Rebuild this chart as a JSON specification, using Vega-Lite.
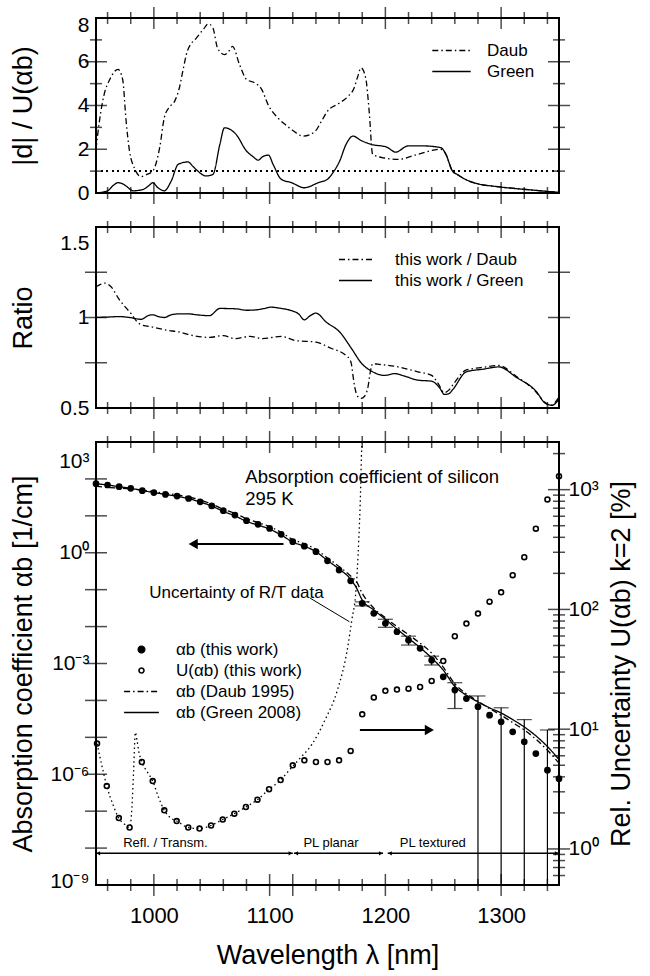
{
"$schema": "https://vega.github.io/schema/vega-lite/v6.json",
"background": "white",
"padding": {"left": 8, "top": 6, "right": 6, "bottom": 2},
"spacing": 34,
"bounds": "flush",
"resolve": {"scale": {"strokeDash": "independent", "shape": "independent"}, "legend": {"strokeDash": "independent", "shape": "independent"}},
"config": {
  "font": "Liberation Sans",
  "view": {"stroke": "black", "strokeWidth": 2},
  "axis": {"domain": false, "grid": false, "ticks": false, "labelFont": "Liberation Sans", "labelFontSize": 21, "labelColor": "black", "titleFont": "Liberation Sans", "titleFontSize": 27, "titleFontWeight": "normal", "titleColor": "black"},
  "legend": {"labelFont": "Liberation Sans", "labelFontSize": 17, "labelColor": "black", "padding": 0},
  "tick": {"color": "black", "thickness": 1.5, "clip": true}
},
"datasets": {
  "xt": [{"v":960,"k":"minor"},{"v":980,"k":"minor"},{"v":1000,"k":"major"},{"v":1020,"k":"minor"},{"v":1040,"k":"minor"},{"v":1060,"k":"minor"},{"v":1080,"k":"minor"},{"v":1100,"k":"major"},{"v":1120,"k":"minor"},{"v":1140,"k":"minor"},{"v":1160,"k":"minor"},{"v":1180,"k":"minor"},{"v":1200,"k":"major"},{"v":1220,"k":"minor"},{"v":1240,"k":"minor"},{"v":1260,"k":"minor"},{"v":1280,"k":"minor"},{"v":1300,"k":"major"},{"v":1320,"k":"minor"},{"v":1340,"k":"minor"}],
  "xt3": [{"v":960,"k":"minor"},{"v":980,"k":"minor"},{"v":1000,"k":"major"},{"v":1020,"k":"minor"},{"v":1040,"k":"minor"},{"v":1060,"k":"minor"},{"v":1080,"k":"minor"},{"v":1100,"k":"major"},{"v":1120,"k":"major"},{"v":1140,"k":"minor"},{"v":1160,"k":"minor"},{"v":1180,"k":"minor"},{"v":1200,"k":"major"},{"v":1220,"k":"minor"},{"v":1240,"k":"minor"},{"v":1260,"k":"minor"},{"v":1280,"k":"minor"},{"v":1300,"k":"major"},{"v":1320,"k":"minor"},{"v":1340,"k":"minor"}],
  "y1t": [{"v":1,"k":"minor"},{"v":2,"k":"major"},{"v":3,"k":"minor"},{"v":4,"k":"major"},{"v":5,"k":"minor"},{"v":6,"k":"major"},{"v":7,"k":"minor"}],
  "y2t": [{"v":0.75,"k":"major"},{"v":1,"k":"major"},{"v":1.25,"k":"major"}],
  "y3t": [{"v":1e-8,"k":"major"},{"v":1e-7,"k":"major"},{"v":1e-6,"k":"major"},{"v":1e-5,"k":"major"},{"v":1e-4,"k":"major"},{"v":0.001,"k":"major"},{"v":0.01,"k":"major"},{"v":0.1,"k":"major"},{"v":1,"k":"major"},{"v":10,"k":"major"},{"v":100,"k":"major"}],
  "y4t": [{"v":0.6,"k":"minor"},{"v":0.7,"k":"minor"},{"v":0.8,"k":"minor"},{"v":0.9,"k":"minor"},{"v":1,"k":"major"},{"v":2,"k":"minor"},{"v":3,"k":"minor"},{"v":4,"k":"minor"},{"v":5,"k":"minor"},{"v":6,"k":"minor"},{"v":7,"k":"minor"},{"v":8,"k":"minor"},{"v":9,"k":"minor"},{"v":10,"k":"major"},{"v":20,"k":"minor"},{"v":30,"k":"minor"},{"v":40,"k":"minor"},{"v":50,"k":"minor"},{"v":60,"k":"minor"},{"v":70,"k":"minor"},{"v":80,"k":"minor"},{"v":90,"k":"minor"},{"v":100,"k":"major"},{"v":200,"k":"minor"},{"v":300,"k":"minor"},{"v":400,"k":"minor"},{"v":500,"k":"minor"},{"v":600,"k":"minor"},{"v":700,"k":"minor"},{"v":800,"k":"minor"},{"v":900,"k":"minor"},{"v":1000,"k":"major"},{"v":2000,"k":"minor"}],
  "d1": [
    {"nm":950,"v":2.0,"s":"Daub"},{"nm":953,"v":3.3,"s":"Daub"},{"nm":957,"v":4.5,"s":"Daub"},{"nm":962,"v":5.2,"s":"Daub"},{"nm":969,"v":5.65,"s":"Daub"},{"nm":973,"v":5.2,"s":"Daub"},{"nm":976,"v":3.3,"s":"Daub"},{"nm":979,"v":1.9,"s":"Daub"},{"nm":983,"v":1.16,"s":"Daub"},{"nm":989,"v":0.75,"s":"Daub"},{"nm":994,"v":0.85,"s":"Daub"},{"nm":999,"v":1.0,"s":"Daub"},{"nm":1005,"v":2.07,"s":"Daub"},{"nm":1009,"v":3.44,"s":"Daub"},{"nm":1013,"v":3.9,"s":"Daub"},{"nm":1018,"v":4.2,"s":"Daub"},{"nm":1022,"v":4.8,"s":"Daub"},{"nm":1025,"v":5.57,"s":"Daub"},{"nm":1029,"v":6.5,"s":"Daub"},{"nm":1037,"v":7.1,"s":"Daub"},{"nm":1043,"v":7.5,"s":"Daub"},{"nm":1047,"v":7.73,"s":"Daub"},{"nm":1051,"v":7.55,"s":"Daub"},{"nm":1055,"v":6.63,"s":"Daub"},{"nm":1061,"v":6.33,"s":"Daub"},{"nm":1065,"v":6.5,"s":"Daub"},{"nm":1068,"v":6.7,"s":"Daub"},{"nm":1074,"v":5.87,"s":"Daub"},{"nm":1080,"v":5.19,"s":"Daub"},{"nm":1087,"v":5.04,"s":"Daub"},{"nm":1093,"v":4.75,"s":"Daub"},{"nm":1099,"v":4.0,"s":"Daub"},{"nm":1107,"v":3.44,"s":"Daub"},{"nm":1113,"v":3.15,"s":"Daub"},{"nm":1119,"v":2.9,"s":"Daub"},{"nm":1129,"v":2.6,"s":"Daub"},{"nm":1139,"v":2.8,"s":"Daub"},{"nm":1145,"v":3.3,"s":"Daub"},{"nm":1150,"v":3.74,"s":"Daub"},{"nm":1160,"v":4.1,"s":"Daub"},{"nm":1168,"v":4.43,"s":"Daub"},{"nm":1173,"v":4.8,"s":"Daub"},{"nm":1176,"v":5.3,"s":"Daub"},{"nm":1179,"v":5.72,"s":"Daub"},{"nm":1183,"v":5.26,"s":"Daub"},{"nm":1186,"v":3.74,"s":"Daub"},{"nm":1189,"v":1.77,"s":"Daub"},{"nm":1199,"v":1.6,"s":"Daub"},{"nm":1211,"v":1.54,"s":"Daub"},{"nm":1228,"v":1.77,"s":"Daub"},{"nm":1248,"v":2.0,"s":"Daub"},{"nm":1252,"v":1.8,"s":"Daub"},{"nm":1258,"v":1.0,"s":"Daub"},{"nm":1262,"v":0.85,"s":"Daub"},{"nm":1270,"v":0.6,"s":"Daub"},{"nm":1277,"v":0.46,"s":"Daub"},{"nm":1295,"v":0.3,"s":"Daub"},{"nm":1313,"v":0.2,"s":"Daub"},{"nm":1330,"v":0.12,"s":"Daub"},{"nm":1345,"v":0.05,"s":"Daub"},{"nm":1350,"v":0.03,"s":"Daub"},
    {"nm":950,"v":0.0,"s":"Green"},{"nm":960,"v":0.1,"s":"Green"},{"nm":965,"v":0.35,"s":"Green"},{"nm":969,"v":0.47,"s":"Green"},{"nm":973,"v":0.42,"s":"Green"},{"nm":976,"v":0.32,"s":"Green"},{"nm":982,"v":0.1,"s":"Green"},{"nm":991,"v":0.17,"s":"Green"},{"nm":996,"v":0.35,"s":"Green"},{"nm":999,"v":0.47,"s":"Green"},{"nm":1003.5,"v":0.24,"s":"Green"},{"nm":1009,"v":0.1,"s":"Green"},{"nm":1015,"v":0.55,"s":"Green"},{"nm":1021,"v":1.31,"s":"Green"},{"nm":1029.5,"v":1.42,"s":"Green"},{"nm":1034,"v":1.2,"s":"Green"},{"nm":1038,"v":1.0,"s":"Green"},{"nm":1045,"v":0.78,"s":"Green"},{"nm":1051,"v":0.85,"s":"Green"},{"nm":1057,"v":2.22,"s":"Green"},{"nm":1061,"v":2.98,"s":"Green"},{"nm":1071,"v":2.68,"s":"Green"},{"nm":1080,"v":1.92,"s":"Green"},{"nm":1086,"v":1.65,"s":"Green"},{"nm":1090,"v":1.5,"s":"Green"},{"nm":1094,"v":1.66,"s":"Green"},{"nm":1099,"v":1.73,"s":"Green"},{"nm":1103,"v":1.31,"s":"Green"},{"nm":1110,"v":0.63,"s":"Green"},{"nm":1119,"v":0.47,"s":"Green"},{"nm":1130,"v":0.24,"s":"Green"},{"nm":1142,"v":0.47,"s":"Green"},{"nm":1150,"v":0.63,"s":"Green"},{"nm":1155,"v":0.95,"s":"Green"},{"nm":1160.5,"v":1.46,"s":"Green"},{"nm":1166,"v":2.22,"s":"Green"},{"nm":1172,"v":2.6,"s":"Green"},{"nm":1179,"v":2.4,"s":"Green"},{"nm":1188,"v":2.22,"s":"Green"},{"nm":1201,"v":2.1,"s":"Green"},{"nm":1209,"v":1.87,"s":"Green"},{"nm":1219.5,"v":2.15,"s":"Green"},{"nm":1234,"v":2.15,"s":"Green"},{"nm":1248,"v":2.07,"s":"Green"},{"nm":1252,"v":1.8,"s":"Green"},{"nm":1258,"v":1.0,"s":"Green"},{"nm":1262,"v":0.85,"s":"Green"},{"nm":1270,"v":0.6,"s":"Green"},{"nm":1277,"v":0.46,"s":"Green"},{"nm":1295,"v":0.3,"s":"Green"},{"nm":1313,"v":0.2,"s":"Green"},{"nm":1330,"v":0.12,"s":"Green"},{"nm":1345,"v":0.05,"s":"Green"},{"nm":1350,"v":0.03,"s":"Green"}
  ],
  "d2": [
    {"nm":950,"v":1.17,"s":"this work / Daub"},{"nm":953,"v":1.18,"s":"this work / Daub"},{"nm":957.5,"v":1.19,"s":"this work / Daub"},{"nm":963,"v":1.17,"s":"this work / Daub"},{"nm":970,"v":1.1,"s":"this work / Daub"},{"nm":975,"v":1.06,"s":"this work / Daub"},{"nm":980.5,"v":1.02,"s":"this work / Daub"},{"nm":985,"v":0.98,"s":"this work / Daub"},{"nm":989,"v":0.96,"s":"this work / Daub"},{"nm":999,"v":0.947,"s":"this work / Daub"},{"nm":1011,"v":0.93,"s":"this work / Daub"},{"nm":1022,"v":0.92,"s":"this work / Daub"},{"nm":1034,"v":0.9,"s":"this work / Daub"},{"nm":1048,"v":0.89,"s":"this work / Daub"},{"nm":1060,"v":0.9,"s":"this work / Daub"},{"nm":1070,"v":0.883,"s":"this work / Daub"},{"nm":1083,"v":0.896,"s":"this work / Daub"},{"nm":1094,"v":0.883,"s":"this work / Daub"},{"nm":1110,"v":0.896,"s":"this work / Daub"},{"nm":1122,"v":0.873,"s":"this work / Daub"},{"nm":1140,"v":0.864,"s":"this work / Daub"},{"nm":1153,"v":0.83,"s":"this work / Daub"},{"nm":1166,"v":0.79,"s":"this work / Daub"},{"nm":1169,"v":0.77,"s":"this work / Daub"},{"nm":1170.6,"v":0.745,"s":"this work / Daub"},{"nm":1172,"v":0.68,"s":"this work / Daub"},{"nm":1173.5,"v":0.617,"s":"this work / Daub"},{"nm":1176,"v":0.565,"s":"this work / Daub"},{"nm":1179,"v":0.553,"s":"this work / Daub"},{"nm":1182,"v":0.565,"s":"this work / Daub"},{"nm":1185,"v":0.617,"s":"this work / Daub"},{"nm":1187,"v":0.7,"s":"this work / Daub"},{"nm":1189,"v":0.745,"s":"this work / Daub"},{"nm":1193.6,"v":0.742,"s":"this work / Daub"},{"nm":1211,"v":0.727,"s":"this work / Daub"},{"nm":1228,"v":0.7,"s":"this work / Daub"},{"nm":1240,"v":0.68,"s":"this work / Daub"},{"nm":1245.5,"v":0.636,"s":"this work / Daub"},{"nm":1251,"v":0.585,"s":"this work / Daub"},{"nm":1255,"v":0.6,"s":"this work / Daub"},{"nm":1258,"v":0.625,"s":"this work / Daub"},{"nm":1270,"v":0.71,"s":"this work / Daub"},{"nm":1285,"v":0.725,"s":"this work / Daub"},{"nm":1298,"v":0.735,"s":"this work / Daub"},{"nm":1313,"v":0.675,"s":"this work / Daub"},{"nm":1330,"v":0.59,"s":"this work / Daub"},{"nm":1338,"v":0.53,"s":"this work / Daub"},{"nm":1343,"v":0.515,"s":"this work / Daub"},{"nm":1350,"v":0.56,"s":"this work / Daub"},
    {"nm":950,"v":1.0,"s":"this work / Green"},{"nm":962,"v":1.003,"s":"this work / Green"},{"nm":970,"v":1.005,"s":"this work / Green"},{"nm":979,"v":1.0,"s":"this work / Green"},{"nm":989,"v":0.99,"s":"this work / Green"},{"nm":995,"v":1.01,"s":"this work / Green"},{"nm":999,"v":1.015,"s":"this work / Green"},{"nm":1004,"v":1.005,"s":"this work / Green"},{"nm":1009,"v":1.0,"s":"this work / Green"},{"nm":1015,"v":1.015,"s":"this work / Green"},{"nm":1022,"v":1.02,"s":"this work / Green"},{"nm":1030,"v":1.02,"s":"this work / Green"},{"nm":1037,"v":1.015,"s":"this work / Green"},{"nm":1048,"v":1.01,"s":"this work / Green"},{"nm":1057,"v":1.05,"s":"this work / Green"},{"nm":1071,"v":1.048,"s":"this work / Green"},{"nm":1080,"v":1.04,"s":"this work / Green"},{"nm":1088,"v":1.042,"s":"this work / Green"},{"nm":1094,"v":1.048,"s":"this work / Green"},{"nm":1101,"v":1.057,"s":"this work / Green"},{"nm":1110,"v":1.05,"s":"this work / Green"},{"nm":1119,"v":1.038,"s":"this work / Green"},{"nm":1125,"v":1.02,"s":"this work / Green"},{"nm":1130,"v":0.987,"s":"this work / Green"},{"nm":1135,"v":1.01,"s":"this work / Green"},{"nm":1140,"v":1.024,"s":"this work / Green"},{"nm":1149,"v":0.974,"s":"this work / Green"},{"nm":1160.5,"v":0.92,"s":"this work / Green"},{"nm":1170.6,"v":0.83,"s":"this work / Green"},{"nm":1179,"v":0.75,"s":"this work / Green"},{"nm":1189,"v":0.7,"s":"this work / Green"},{"nm":1199,"v":0.68,"s":"this work / Green"},{"nm":1208,"v":0.69,"s":"this work / Green"},{"nm":1216.6,"v":0.676,"s":"this work / Green"},{"nm":1228,"v":0.654,"s":"this work / Green"},{"nm":1240,"v":0.648,"s":"this work / Green"},{"nm":1247,"v":0.61,"s":"this work / Green"},{"nm":1251,"v":0.575,"s":"this work / Green"},{"nm":1255,"v":0.58,"s":"this work / Green"},{"nm":1258,"v":0.6,"s":"this work / Green"},{"nm":1270,"v":0.7,"s":"this work / Green"},{"nm":1285,"v":0.715,"s":"this work / Green"},{"nm":1298,"v":0.727,"s":"this work / Green"},{"nm":1313,"v":0.67,"s":"this work / Green"},{"nm":1330.5,"v":0.59,"s":"this work / Green"},{"nm":1338,"v":0.527,"s":"this work / Green"},{"nm":1344,"v":0.515,"s":"this work / Green"},{"nm":1350,"v":0.55,"s":"this work / Green"}
  ],
  "lines3": [
    {"nm":950,"v":74.1,"s":"αb (Green 2008)"},{"nm":960,"v":68.4,"s":"αb (Green 2008)"},{"nm":970,"v":61.7,"s":"αb (Green 2008)"},{"nm":980,"v":55.6,"s":"αb (Green 2008)"},{"nm":990,"v":48.4,"s":"αb (Green 2008)"},{"nm":1000,"v":42.7,"s":"αb (Green 2008)"},{"nm":1010,"v":38.0,"s":"αb (Green 2008)"},{"nm":1020,"v":33.9,"s":"αb (Green 2008)"},{"nm":1030,"v":29.2,"s":"αb (Green 2008)"},{"nm":1040,"v":23.7,"s":"αb (Green 2008)"},{"nm":1050,"v":18.4,"s":"αb (Green 2008)"},{"nm":1060,"v":13.2,"s":"αb (Green 2008)"},{"nm":1070,"v":10.0,"s":"αb (Green 2008)"},{"nm":1080,"v":7.08,"s":"αb (Green 2008)"},{"nm":1090,"v":5.62,"s":"αb (Green 2008)"},{"nm":1100,"v":4.37,"s":"αb (Green 2008)"},{"nm":1110,"v":3.02,"s":"αb (Green 2008)"},{"nm":1120,"v":1.95,"s":"αb (Green 2008)"},{"nm":1130,"v":1.5,"s":"αb (Green 2008)"},{"nm":1140,"v":1.07,"s":"αb (Green 2008)"},{"nm":1150,"v":0.617,"s":"αb (Green 2008)"},{"nm":1160,"v":0.363,"s":"αb (Green 2008)"},{"nm":1170,"v":0.191,"s":"αb (Green 2008)"},{"nm":1175,"v":0.112,"s":"αb (Green 2008)"},{"nm":1180,"v":0.0525,"s":"αb (Green 2008)"},{"nm":1190,"v":0.0282,"s":"αb (Green 2008)"},{"nm":1200,"v":0.0158,"s":"αb (Green 2008)"},{"nm":1210,"v":0.00851,"s":"αb (Green 2008)"},{"nm":1220,"v":0.00479,"s":"αb (Green 2008)"},{"nm":1230,"v":0.00269,"s":"αb (Green 2008)"},{"nm":1240,"v":0.00141,"s":"αb (Green 2008)"},{"nm":1250,"v":0.000661,"s":"αb (Green 2008)"},{"nm":1260,"v":0.00024,"s":"αb (Green 2008)"},{"nm":1270,"v":0.000138,"s":"αb (Green 2008)"},{"nm":1280,"v":0.0000912,"s":"αb (Green 2008)"},{"nm":1290,"v":0.0000631,"s":"αb (Green 2008)"},{"nm":1300,"v":0.0000457,"s":"αb (Green 2008)"},{"nm":1310,"v":0.0000302,"s":"αb (Green 2008)"},{"nm":1320,"v":0.0000191,"s":"αb (Green 2008)"},{"nm":1330,"v":0.000011,"s":"αb (Green 2008)"},{"nm":1340,"v":0.00000562,"s":"αb (Green 2008)"},{"nm":1350,"v":0.00000251,"s":"αb (Green 2008)"},
    {"nm":950,"v":63.1,"s":"αb (Daub 1995)"},{"nm":960,"v":58.9,"s":"αb (Daub 1995)"},{"nm":970,"v":56.2,"s":"αb (Daub 1995)"},{"nm":980,"v":53.7,"s":"αb (Daub 1995)"},{"nm":990,"v":50.1,"s":"αb (Daub 1995)"},{"nm":1000,"v":44.7,"s":"αb (Daub 1995)"},{"nm":1010,"v":40.7,"s":"αb (Daub 1995)"},{"nm":1020,"v":37.2,"s":"αb (Daub 1995)"},{"nm":1030,"v":32.4,"s":"αb (Daub 1995)"},{"nm":1040,"v":26.9,"s":"αb (Daub 1995)"},{"nm":1050,"v":20.9,"s":"αb (Daub 1995)"},{"nm":1060,"v":15.1,"s":"αb (Daub 1995)"},{"nm":1070,"v":11.7,"s":"αb (Daub 1995)"},{"nm":1080,"v":8.32,"s":"αb (Daub 1995)"},{"nm":1090,"v":6.61,"s":"αb (Daub 1995)"},{"nm":1100,"v":5.13,"s":"αb (Daub 1995)"},{"nm":1110,"v":3.55,"s":"αb (Daub 1995)"},{"nm":1120,"v":2.29,"s":"αb (Daub 1995)"},{"nm":1130,"v":1.74,"s":"αb (Daub 1995)"},{"nm":1140,"v":1.23,"s":"αb (Daub 1995)"},{"nm":1150,"v":0.724,"s":"αb (Daub 1995)"},{"nm":1160,"v":0.427,"s":"αb (Daub 1995)"},{"nm":1170,"v":0.234,"s":"αb (Daub 1995)"},{"nm":1175,"v":0.166,"s":"αb (Daub 1995)"},{"nm":1180,"v":0.0794,"s":"αb (Daub 1995)"},{"nm":1190,"v":0.0316,"s":"αb (Daub 1995)"},{"nm":1200,"v":0.0174,"s":"αb (Daub 1995)"},{"nm":1210,"v":0.01,"s":"αb (Daub 1995)"},{"nm":1220,"v":0.00603,"s":"αb (Daub 1995)"},{"nm":1230,"v":0.00355,"s":"αb (Daub 1995)"},{"nm":1240,"v":0.00191,"s":"αb (Daub 1995)"},{"nm":1250,"v":0.000794,"s":"αb (Daub 1995)"},{"nm":1260,"v":0.000282,"s":"αb (Daub 1995)"},{"nm":1270,"v":0.000151,"s":"αb (Daub 1995)"},{"nm":1280,"v":0.0000955,"s":"αb (Daub 1995)"},{"nm":1290,"v":0.0000603,"s":"αb (Daub 1995)"},{"nm":1300,"v":0.0000398,"s":"αb (Daub 1995)"},{"nm":1310,"v":0.0000251,"s":"αb (Daub 1995)"},{"nm":1320,"v":0.0000158,"s":"αb (Daub 1995)"},{"nm":1330,"v":0.00000891,"s":"αb (Daub 1995)"},{"nm":1340,"v":0.00000447,"s":"αb (Daub 1995)"},{"nm":1350,"v":0.000002,"s":"αb (Daub 1995)"}
  ],
  "pts": [
    {"nm":950,"v":74.1},{"nm":960,"v":68.4},{"nm":970,"v":61.7},{"nm":980,"v":55.6},{"nm":990,"v":47.9},{"nm":1000,"v":42.7},{"nm":1010,"v":38.0},{"nm":1020,"v":34.3},{"nm":1030,"v":29.5},{"nm":1040,"v":24.0},{"nm":1050,"v":18.6},{"nm":1060,"v":13.8},{"nm":1070,"v":10.5},{"nm":1080,"v":7.41},{"nm":1090,"v":5.89},{"nm":1100,"v":4.57},{"nm":1110,"v":3.16},{"nm":1120,"v":2.0},{"nm":1130,"v":1.51},{"nm":1140,"v":1.07},{"nm":1150,"v":0.603},{"nm":1160,"v":0.339},{"nm":1170,"v":0.174},{"nm":1180,"v":0.0427},{"nm":1190,"v":0.0229},{"nm":1200,"v":0.0123},{"nm":1210,"v":0.00724},{"nm":1220,"v":0.00427},{"nm":1230,"v":0.00257},{"nm":1240,"v":0.00123},{"nm":1250,"v":0.000437},{"nm":1260,"v":0.000191},{"nm":1270,"v":0.000112},{"nm":1280,"v":0.0000676},{"nm":1290,"v":0.0000398},{"nm":1300,"v":0.0000263},{"nm":1310,"v":0.0000141},{"nm":1320,"v":0.00000759},{"nm":1330,"v":0.00000363},{"nm":1340,"v":0.00000129},{"nm":1350,"v":0.000000759}
  ],
  "err": [
    {"nm":1180,"lo":0.0363,"hi":0.0468,"lowcap":true},{"nm":1200,"lo":0.00955,"hi":0.0158,"lowcap":true},{"nm":1220,"lo":0.00316,"hi":0.0055,"lowcap":true},{"nm":1240,"lo":0.000912,"hi":0.00158,"lowcap":true},{"nm":1260,"lo":0.0000603,"hi":0.000302,"lowcap":true},{"nm":1280,"lo":1e-9,"hi":0.000132,"lowcap":false},{"nm":1300,"lo":1e-9,"hi":0.0000631,"lowcap":false},{"nm":1320,"lo":1e-9,"hi":0.0000302,"lowcap":false},{"nm":1340,"lo":1e-9,"hi":0.0000158,"lowcap":false}
  ],
  "unc": [
    {"nm":950.9,"u":7.58},{"nm":959.3,"u":3.35},{"nm":969.7,"u":1.81},{"nm":979,"u":1.51},{"nm":989.6,"u":5.32},{"nm":999,"u":3.69},{"nm":1009,"u":2.1},{"nm":1019.7,"u":1.71},{"nm":1029.7,"u":1.51},{"nm":1039.4,"u":1.48},{"nm":1049.4,"u":1.57},{"nm":1059.5,"u":1.76},{"nm":1069.5,"u":1.97},{"nm":1079.5,"u":2.24},{"nm":1089.5,"u":2.58},{"nm":1099.5,"u":3.15},{"nm":1109.5,"u":3.76},{"nm":1120,"u":4.99},{"nm":1130,"u":5.5},{"nm":1140,"u":5.32},{"nm":1150,"u":5.32},{"nm":1160,"u":5.5},{"nm":1170,"u":6.58},{"nm":1180,"u":13.3},{"nm":1190,"u":18.4},{"nm":1200,"u":20.9},{"nm":1210,"u":21.4},{"nm":1220,"u":21.8},{"nm":1230,"u":22.5},{"nm":1240,"u":25.3},{"nm":1250,"u":37.1},{"nm":1260,"u":59.7},{"nm":1270,"u":76.2},{"nm":1280,"u":92.4},{"nm":1290,"u":116},{"nm":1300,"u":139},{"nm":1310,"u":193},{"nm":1320,"u":273},{"nm":1330,"u":472},{"nm":1340,"u":828},{"nm":1350,"u":1297}
  ],
  "rt": [
    {"nm":950.9,"u":7.58},{"nm":955,"u":5.0},{"nm":959.3,"u":3.35},{"nm":965,"u":2.3},{"nm":969.7,"u":1.81},{"nm":975,"u":1.6},{"nm":979,"u":1.51},{"nm":981,"u":2.2},{"nm":982.5,"u":4.5},{"nm":984,"u":9.4},{"nm":985.5,"u":8.0},{"nm":987,"u":6.5},{"nm":989.6,"u":5.32},{"nm":995,"u":4.3},{"nm":999,"u":3.69},{"nm":1004,"u":2.7},{"nm":1009,"u":2.1},{"nm":1015,"u":1.8},{"nm":1019.7,"u":1.71},{"nm":1029.7,"u":1.51},{"nm":1039.4,"u":1.48},{"nm":1049.4,"u":1.57},{"nm":1059.5,"u":1.76},{"nm":1069.5,"u":1.97},{"nm":1079.5,"u":2.24},{"nm":1089.5,"u":2.58},{"nm":1099.5,"u":3.15},{"nm":1109.5,"u":3.76},{"nm":1115.6,"u":4.39},{"nm":1126,"u":5.68},{"nm":1137,"u":7.58},{"nm":1147.8,"u":11.9},{"nm":1158.5,"u":21.1},{"nm":1167.5,"u":48.6},{"nm":1171,"u":81.3},{"nm":1174.6,"u":145},{"nm":1177,"u":378},{"nm":1178.6,"u":991},{"nm":1179.3,"u":1880},{"nm":1180,"u":3000}
  ],
  "arrows": [
    {"a":1112,"b":1032,"v":1.72},{"a":1178,"b":1240,"v":0.0000158}
  ],
  "heads": [
    {"nm":1034,"v":1.72,"d":"left"},{"nm":1238,"v":0.0000158,"d":"right"}
  ],
  "ranges": [
    {"a":950,"b":1120,"c":1010,"t":"Refl. / Transm."},{"a":1121,"b":1198,"c":1153,"t":"PL planar"},{"a":1202,"b":1350,"c":1241,"t":"PL textured"}
  ],
  "rheads": [
    {"nm":952,"d":"left"},{"nm":1118,"d":"right"},{"nm":1123,"d":"left"},{"nm":1196,"d":"right"},{"nm":1204,"d":"left"},{"nm":1348,"d":"right"}
  ],
  "notes": [
    {"nm":1079,"v":112,"t":"Absorption coefficient of silicon"},{"nm":1079,"v":28,"t":"295 K"}
  ],
  "notes2": [
    {"nm":996,"v":0.0813,"t":"Uncertainty of R/T data"}
  ],
  "leader": [
    {"a":1135,"b":1169,"v":0.0589,"v2":0.0135}
  ]
},
"vconcat": [
  {
    "width": 463, "height": 175,
    "layer": [
      {"data": {"name": "d1"},
       "mark": {"type": "line", "interpolate": "monotone", "color": "black", "strokeWidth": 1.3, "clip": true},
       "encoding": {
         "x": {"field": "nm", "type": "quantitative", "scale": {"domain": [950, 1350], "nice": false, "zero": false}, "axis": null},
         "y": {"field": "v", "type": "quantitative", "scale": {"domain": [0, 8], "nice": false},
               "axis": {"values": [0,2,4,6,8], "labelPadding": 7, "title": "|d| / U(αb)", "titlePadding": 40,
                        "labelOffset": {"condition": {"test": "datum.value == 8", "value": 7}, "value": 0}}},
         "strokeDash": {"field": "s", "type": "nominal", "scale": {"domain": ["Daub", "Green"], "range": [[6,3,1.5,3],[1,0]]},
               "legend": {"title": null, "orient": "none", "legendX": 347, "legendY": 24, "symbolType": "M-3.2,0H3.2", "symbolSize": 144, "symbolStrokeWidth": 1.3, "symbolStrokeColor": "black", "symbolFillColor": "transparent", "labelFontSize": 17, "labelOffset": 27, "rowPadding": 3}}
       }},
      {"data": {"name": "d1"},
       "mark": {"type": "rule", "strokeDash": [1.5, 4], "color": "black", "strokeWidth": 1.3},
       "encoding": {"y": {"datum": 1, "type": "quantitative", "scale": {"domain": [0, 8], "nice": false}, "axis": null}}},
      {"data": {"name": "xt"},
       "mark": {"type": "tick", "orient": "vertical"},
       "encoding": {
         "x": {"field": "v", "type": "quantitative", "scale": {"domain": [950, 1350], "nice": false, "zero": false}, "axis": null},
         "y": {"datum": 0, "type": "quantitative", "scale": {"domain": [0, 8], "nice": false}, "axis": null},
         "size": {"field": "k", "type": "nominal", "scale": {"domain": ["major", "minor"], "range": [22, 12]}, "legend": null}
       }},
      {"data": {"name": "xt"},
       "mark": {"type": "tick", "orient": "vertical"},
       "encoding": {
         "x": {"field": "v", "type": "quantitative", "scale": {"domain": [950, 1350], "nice": false, "zero": false}, "axis": null},
         "y": {"datum": 8, "type": "quantitative", "scale": {"domain": [0, 8], "nice": false}, "axis": null},
         "size": {"field": "k", "type": "nominal", "scale": {"domain": ["major", "minor"], "range": [22, 12]}, "legend": null}
       }},
      {"data": {"name": "y1t"},
       "mark": {"type": "tick", "orient": "horizontal"},
       "encoding": {
         "y": {"field": "v", "type": "quantitative", "scale": {"domain": [0, 8], "nice": false}, "axis": null},
         "x": {"datum": 950, "type": "quantitative", "scale": {"domain": [950, 1350], "nice": false, "zero": false}, "axis": null},
         "size": {"field": "k", "type": "nominal", "scale": {"domain": ["major", "minor"], "range": [22, 12]}, "legend": null}
       }},
      {"data": {"name": "y1t"},
       "mark": {"type": "tick", "orient": "horizontal"},
       "encoding": {
         "y": {"field": "v", "type": "quantitative", "scale": {"domain": [0, 8], "nice": false}, "axis": null},
         "x": {"datum": 1350, "type": "quantitative", "scale": {"domain": [950, 1350], "nice": false, "zero": false}, "axis": null},
         "size": {"field": "k", "type": "nominal", "scale": {"domain": ["major", "minor"], "range": [22, 12]}, "legend": null}
       }}
    ],
    "resolve": {"axis": {"x": "independent", "y": "independent"}}
  },
  {
    "width": 463, "height": 181,
    "layer": [
      {"data": {"name": "d2"},
       "mark": {"type": "line", "interpolate": "monotone", "color": "black", "strokeWidth": 1.3, "clip": true},
       "encoding": {
         "x": {"field": "nm", "type": "quantitative", "scale": {"domain": [950, 1350], "nice": false, "zero": false}, "axis": null},
         "y": {"field": "v", "type": "quantitative", "scale": {"domain": [0.5, 1.5], "nice": false, "zero": false},
               "axis": {"values": [0.5,1,1.5], "labelExpr": "datum.value == 0.5 ? '0.5' : datum.value == 1 ? '1' : '1.5'", "labelPadding": 7, "title": "Ratio", "titlePadding": 22,
                        "labelOffset": {"condition": {"test": "datum.value == 1.5", "value": 16}, "value": 0}}},
         "strokeDash": {"field": "s", "type": "nominal", "scale": {"domain": ["this work / Daub", "this work / Green"], "range": [[6,3,1.5,3],[1,0]]},
               "legend": {"title": null, "orient": "none", "legendX": 251, "legendY": 24, "symbolType": "M-2.75,0H2.75", "symbolSize": 144, "symbolStrokeWidth": 1.3, "symbolStrokeColor": "black", "symbolFillColor": "transparent", "labelFontSize": 17, "labelOffset": 31, "rowPadding": 3}}
       }},
      {"data": {"name": "xt"},
       "mark": {"type": "tick", "orient": "vertical"},
       "encoding": {
         "x": {"field": "v", "type": "quantitative", "scale": {"domain": [950, 1350], "nice": false, "zero": false}, "axis": null},
         "y": {"datum": 0.5, "type": "quantitative", "scale": {"domain": [0.5, 1.5], "nice": false, "zero": false}, "axis": null},
         "size": {"field": "k", "type": "nominal", "scale": {"domain": ["major", "minor"], "range": [22, 12]}, "legend": null}
       }},
      {"data": {"name": "xt"},
       "mark": {"type": "tick", "orient": "vertical"},
       "encoding": {
         "x": {"field": "v", "type": "quantitative", "scale": {"domain": [950, 1350], "nice": false, "zero": false}, "axis": null},
         "y": {"datum": 1.5, "type": "quantitative", "scale": {"domain": [0.5, 1.5], "nice": false, "zero": false}, "axis": null},
         "size": {"field": "k", "type": "nominal", "scale": {"domain": ["major", "minor"], "range": [22, 12]}, "legend": null}
       }},
      {"data": {"name": "y2t"},
       "mark": {"type": "tick", "orient": "horizontal"},
       "encoding": {
         "y": {"field": "v", "type": "quantitative", "scale": {"domain": [0.5, 1.5], "nice": false, "zero": false}, "axis": null},
         "x": {"datum": 950, "type": "quantitative", "scale": {"domain": [950, 1350], "nice": false, "zero": false}, "axis": null},
         "size": {"field": "k", "type": "nominal", "scale": {"domain": ["major", "minor"], "range": [22, 12]}, "legend": null}
       }},
      {"data": {"name": "y2t"},
       "mark": {"type": "tick", "orient": "horizontal"},
       "encoding": {
         "y": {"field": "v", "type": "quantitative", "scale": {"domain": [0.5, 1.5], "nice": false, "zero": false}, "axis": null},
         "x": {"datum": 1350, "type": "quantitative", "scale": {"domain": [950, 1350], "nice": false, "zero": false}, "axis": null},
         "size": {"field": "k", "type": "nominal", "scale": {"domain": ["major", "minor"], "range": [22, 12]}, "legend": null}
       }}
    ],
    "resolve": {"axis": {"x": "independent", "y": "independent"}}
  },
  {
    "width": 463, "height": 443,
    "layer": [
      {"data": {"name": "lines3"},
       "mark": {"type": "line", "interpolate": "monotone", "color": "black", "strokeWidth": 1.3, "clip": true},
       "encoding": {
         "x": {"field": "nm", "type": "quantitative", "scale": {"domain": [950, 1350], "nice": false, "zero": false},
               "axis": {"orient": "bottom", "values": [1000,1100,1200,1300], "format": "d", "labelPadding": 20, "labelFontSize": 22, "title": "Wavelength λ [nm]", "titlePadding": 16}},
         "y": {"field": "v", "type": "quantitative", "scale": {"type": "log", "domain": [1e-9, 1000], "nice": false},
               "axis": {"values": [1e-9,1e-6,0.001,1,1000], "labelExpr": "round(log(datum.value)/LN10) == 3 ? '10³' : round(log(datum.value)/LN10) == 0 ? '10⁰' : round(log(datum.value)/LN10) == -3 ? '10⁻³' : round(log(datum.value)/LN10) == -6 ? '10⁻⁶' : '10⁻⁹'", "labelPadding": 7, "title": "Absorption coefficient αb [1/cm]", "titlePadding": 12,
                        "labelOffset": {"condition": [{"test": "datum.value > 500", "value": 19}, {"test": "datum.value < 2e-9", "value": -4}], "value": 0}}},
         "strokeDash": {"field": "s", "type": "nominal", "scale": {"domain": ["αb (this work)", "U(αb) (this work)", "αb (Daub 1995)", "αb (Green 2008)"], "range": [[1,0],[1,0],[6,3,1.5,3],[1,0]]},
               "legend": {"title": null, "orient": "none", "legendX": 37, "legendY": 199, "symbolType": "M-2.9,0H2.9", "symbolSize": 144, "symbolStrokeWidth": 1.3, "symbolStrokeColor": "black", "symbolFillColor": "transparent", "labelFontSize": 17, "labelOffset": 26, "rowPadding": 3,
                 "encode": {"symbols": {"update": {
                   "shape": {"signal": "datum.value == 'αb (this work)' || datum.value == 'U(αb) (this work)' ? 'circle' : 'M-2.9,0H2.9'"},
                   "size": {"signal": "datum.value == 'αb (this work)' ? 45 : datum.value == 'U(αb) (this work)' ? 24 : 144"},
                   "fill": {"signal": "datum.value == 'αb (this work)' ? 'black' : 'transparent'"},
                   "strokeWidth": {"signal": "datum.value == 'U(αb) (this work)' ? 1.6 : 1.3"},
                   "stroke": {"value": "black"}}}}}}
       }},
      {"data": {"name": "pts"},
       "mark": {"type": "point", "filled": true, "color": "black", "size": 45, "opacity": 1},
       "encoding": {
         "x": {"field": "nm", "type": "quantitative", "scale": {"domain": [950, 1350], "nice": false, "zero": false}, "axis": null},
         "y": {"field": "v", "type": "quantitative", "scale": {"type": "log", "domain": [1e-9, 1000], "nice": false}, "axis": null}
       }},
      {"data": {"name": "err"},
       "mark": {"type": "rule", "color": "black", "strokeWidth": 1.2},
       "encoding": {
         "x": {"field": "nm", "type": "quantitative", "scale": {"domain": [950, 1350], "nice": false, "zero": false}, "axis": null},
         "y": {"field": "lo", "type": "quantitative", "scale": {"type": "log", "domain": [1e-9, 1000], "nice": false}, "axis": null},
         "y2": {"field": "hi"}
       }},
      {"data": {"name": "err"},
       "mark": {"type": "tick", "orient": "horizontal", "color": "black", "size": 15, "thickness": 1.2},
       "encoding": {
         "x": {"field": "nm", "type": "quantitative", "scale": {"domain": [950, 1350], "nice": false, "zero": false}, "axis": null},
         "y": {"field": "hi", "type": "quantitative", "scale": {"type": "log", "domain": [1e-9, 1000], "nice": false}, "axis": null}
       }},
      {"data": {"name": "err"},
       "transform": [{"filter": "datum.lowcap"}],
       "mark": {"type": "tick", "orient": "horizontal", "color": "black", "size": 15, "thickness": 1.2},
       "encoding": {
         "x": {"field": "nm", "type": "quantitative", "scale": {"domain": [950, 1350], "nice": false, "zero": false}, "axis": null},
         "y": {"field": "lo", "type": "quantitative", "scale": {"type": "log", "domain": [1e-9, 1000], "nice": false}, "axis": null}
       }},
      {"data": {"name": "unc"},
       "mark": {"type": "point", "filled": false, "color": "black", "size": 24, "strokeWidth": 1.6, "opacity": 1},
       "encoding": {
         "x": {"field": "nm", "type": "quantitative", "scale": {"domain": [950, 1350], "nice": false, "zero": false}, "axis": null},
         "y": {"field": "u", "type": "quantitative", "scale": {"type": "log", "domain": [0.5, 2500], "nice": false},
               "axis": {"orient": "right", "values": [1,10,100,1000], "labelExpr": "round(log(datum.value)/LN10) == 0 ? '10⁰' : round(log(datum.value)/LN10) == 1 ? '10¹' : round(log(datum.value)/LN10) == 2 ? '10²' : '10³'", "labelPadding": 9, "title": "Rel. Uncertainty U(αb) k=2 [%]", "titleAngle": 270, "titleBaseline": "top", "titlePadding": 10}}
       }},
      {"data": {"name": "rt"},
       "mark": {"type": "line", "interpolate": "monotone", "color": "black", "strokeWidth": 1.3, "strokeDash": [1.5, 3], "clip": true},
       "encoding": {
         "x": {"field": "nm", "type": "quantitative", "scale": {"domain": [950, 1350], "nice": false, "zero": false}, "axis": null},
         "y": {"field": "u", "type": "quantitative", "scale": {"type": "log", "domain": [0.5, 2500], "nice": false}, "axis": null}
       }},
      {"data": {"name": "xt3"},
       "mark": {"type": "tick", "orient": "vertical"},
       "encoding": {
         "x": {"field": "v", "type": "quantitative", "scale": {"domain": [950, 1350], "nice": false, "zero": false}, "axis": null},
         "y": {"datum": 1e-9, "type": "quantitative", "scale": {"type": "log", "domain": [1e-9, 1000], "nice": false}, "axis": null},
         "size": {"field": "k", "type": "nominal", "scale": {"domain": ["major", "minor"], "range": [22, 12]}, "legend": null}
       }},
      {"data": {"name": "xt"},
       "mark": {"type": "tick", "orient": "vertical"},
       "encoding": {
         "x": {"field": "v", "type": "quantitative", "scale": {"domain": [950, 1350], "nice": false, "zero": false}, "axis": null},
         "y": {"datum": 1000, "type": "quantitative", "scale": {"type": "log", "domain": [1e-9, 1000], "nice": false}, "axis": null},
         "size": {"field": "k", "type": "nominal", "scale": {"domain": ["major", "minor"], "range": [22, 12]}, "legend": null}
       }},
      {"data": {"name": "y3t"},
       "mark": {"type": "tick", "orient": "horizontal"},
       "encoding": {
         "y": {"field": "v", "type": "quantitative", "scale": {"type": "log", "domain": [1e-9, 1000], "nice": false}, "axis": null},
         "x": {"datum": 950, "type": "quantitative", "scale": {"domain": [950, 1350], "nice": false, "zero": false}, "axis": null},
         "size": {"field": "k", "type": "nominal", "scale": {"domain": ["major", "minor"], "range": [20, 12]}, "legend": null}
       }},
      {"data": {"name": "y4t"},
       "mark": {"type": "tick", "orient": "horizontal"},
       "encoding": {
         "y": {"field": "v", "type": "quantitative", "scale": {"type": "log", "domain": [0.5, 2500], "nice": false}, "axis": null},
         "x": {"datum": 1350, "type": "quantitative", "scale": {"domain": [950, 1350], "nice": false, "zero": false}, "axis": null},
         "size": {"field": "k", "type": "nominal", "scale": {"domain": ["major", "minor"], "range": [20, 10]}, "legend": null}
       }},
      {"data": {"name": "arrows"},
       "mark": {"type": "rule", "color": "black", "strokeWidth": 2},
       "encoding": {
         "x": {"field": "a", "type": "quantitative", "scale": {"domain": [950, 1350], "nice": false, "zero": false}, "axis": null},
         "x2": {"field": "b"},
         "y": {"field": "v", "type": "quantitative", "scale": {"type": "log", "domain": [1e-9, 1000], "nice": false}, "axis": null}
       }},
      {"data": {"name": "heads"},
       "mark": {"type": "point", "filled": true, "color": "black", "size": 110, "opacity": 1},
       "encoding": {
         "x": {"field": "nm", "type": "quantitative", "scale": {"domain": [950, 1350], "nice": false, "zero": false}, "axis": null},
         "y": {"field": "v", "type": "quantitative", "scale": {"type": "log", "domain": [1e-9, 1000], "nice": false}, "axis": null},
         "shape": {"field": "d", "type": "nominal", "scale": {"domain": ["left", "right"], "range": ["triangle-left", "triangle-right"]}, "legend": null}
       }},
      {"data": {"name": "ranges"},
       "mark": {"type": "rule", "color": "black", "strokeWidth": 1.5},
       "encoding": {
         "x": {"field": "a", "type": "quantitative", "scale": {"domain": [950, 1350], "nice": false, "zero": false}, "axis": null},
         "x2": {"field": "b"},
         "y": {"datum": 7.2e-9, "type": "quantitative", "scale": {"type": "log", "domain": [1e-9, 1000], "nice": false}, "axis": null}
       }},
      {"data": {"name": "rheads"},
       "mark": {"type": "point", "filled": true, "color": "black", "size": 18, "opacity": 1},
       "encoding": {
         "x": {"field": "nm", "type": "quantitative", "scale": {"domain": [950, 1350], "nice": false, "zero": false}, "axis": null},
         "y": {"datum": 7.2e-9, "type": "quantitative", "scale": {"type": "log", "domain": [1e-9, 1000], "nice": false}, "axis": null},
         "shape": {"field": "d", "type": "nominal", "scale": {"domain": ["left", "right"], "range": ["triangle-left", "triangle-right"]}, "legend": null}
       }},
      {"data": {"name": "ranges"},
       "mark": {"type": "text", "color": "black", "fontSize": 13, "baseline": "bottom", "align": "center", "dy": -3},
       "encoding": {
         "x": {"field": "c", "type": "quantitative", "scale": {"domain": [950, 1350], "nice": false, "zero": false}, "axis": null},
         "y": {"datum": 7.2e-9, "type": "quantitative", "scale": {"type": "log", "domain": [1e-9, 1000], "nice": false}, "axis": null},
         "text": {"field": "t"}
       }},
      {"data": {"name": "notes"},
       "mark": {"type": "text", "color": "black", "fontSize": 18.5, "baseline": "middle", "align": "left"},
       "encoding": {
         "x": {"field": "nm", "type": "quantitative", "scale": {"domain": [950, 1350], "nice": false, "zero": false}, "axis": null},
         "y": {"field": "v", "type": "quantitative", "scale": {"type": "log", "domain": [1e-9, 1000], "nice": false}, "axis": null},
         "text": {"field": "t"}
       }},
      {"data": {"name": "notes2"},
       "mark": {"type": "text", "color": "black", "fontSize": 17, "baseline": "middle", "align": "left"},
       "encoding": {
         "x": {"field": "nm", "type": "quantitative", "scale": {"domain": [950, 1350], "nice": false, "zero": false}, "axis": null},
         "y": {"field": "v", "type": "quantitative", "scale": {"type": "log", "domain": [1e-9, 1000], "nice": false}, "axis": null},
         "text": {"field": "t"}
       }},
      {"data": {"name": "leader"},
       "mark": {"type": "rule", "color": "black", "strokeWidth": 1},
       "encoding": {
         "x": {"field": "a", "type": "quantitative", "scale": {"domain": [950, 1350], "nice": false, "zero": false}, "axis": null},
         "x2": {"field": "b"},
         "y": {"field": "v", "type": "quantitative", "scale": {"type": "log", "domain": [1e-9, 1000], "nice": false}, "axis": null},
         "y2": {"field": "v2"}
       }}
    ],
    "resolve": {"scale": {"y": "independent"}, "axis": {"x": "independent", "y": "independent"}}
  }
]
}
